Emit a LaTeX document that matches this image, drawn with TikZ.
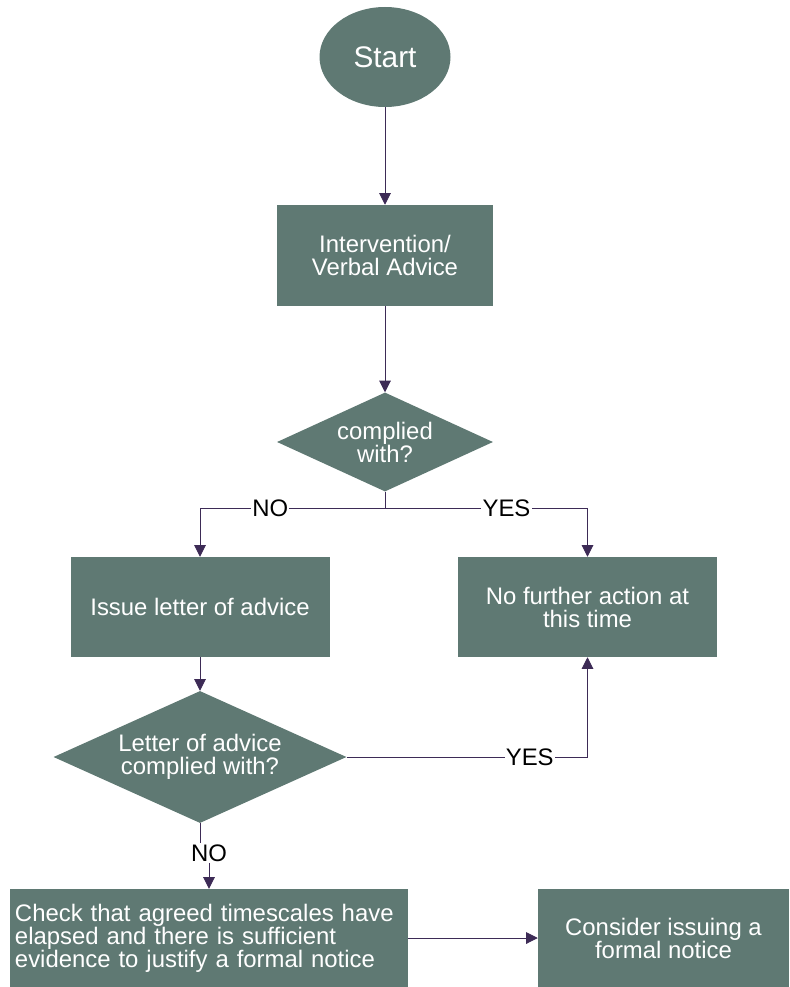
\documentclass[tikz,border=0pt]{standalone}
\usepackage{fontspec}
\setmainfont{Liberation Sans}
\usetikzlibrary{shapes.geometric,arrows.meta}
\definecolor{boxfill}{RGB}{95,121,115}
\definecolor{linecol}{RGB}{61,43,86}
\begin{document}
\begin{tikzpicture}[x=0.3mm,y=-0.3mm,
    every node/.style={font=\fontsize{20.4}{19.6}\selectfont},
    stepbox/.style={rectangle,fill=boxfill,text=white,inner sep=0pt,align=center},
    choice/.style={diamond,fill=boxfill,inner sep=0pt},
    choicetext/.style={text=white,align=center,inner sep=0pt},
    lbl/.style={fill=white,text=black,inner sep=1pt},
    arr/.style={draw=linecol,line width=0.8pt,-{Triangle[width=10pt,length=10pt]}},
    con/.style={draw=linecol,line width=0.8pt}]
            \useasboundingbox (0,0) rectangle (789,987);
            \node [ellipse,fill=boxfill,text=white,minimum width=39.3mm,minimum height=30mm,inner sep=0pt,font=\fontsize{25.4}{28}\selectfont] (start) at (385,57) {Start};
            \node [stepbox,minimum width=64.8mm,minimum height=30.3mm] (advice) at (385,255.5) {Intervention/\\Verbal Advice};
            \node [choice,minimum width=64.8mm,minimum height=29.7mm,label={[choicetext]center:{complied\\with?}}] (complied) at (385,442) {};
            \node [stepbox,minimum width=77.7mm,minimum height=30mm] (letter) at (200,607) {Issue letter of advice};
            \node [stepbox,minimum width=77.7mm,minimum height=30mm] (noaction) at (587.5,607) {No further action at\\this time};
            \node [choice,minimum width=87.9mm,minimum height=39.6mm,label={[choicetext]center:{Letter of advice\\complied with?}}] (lettercomplied) at (200,757) {};
            \node [stepbox,minimum width=119.4mm,minimum height=29.4mm,text width=116.4mm,align=left] (check) at (209,938) {Check that agreed timescales have\\elapsed and there is sufficient\\evidence to justify a formal notice};
            \node [stepbox,minimum width=75.3mm,minimum height=29.4mm] (notice) at (663.5,938) {Consider issuing a\\formal notice};
            \node [lbl] (nolbl) at (209,853) {NO};
            \coordinate (split) at (385,508);
            \draw [arr] (start) -- (advice);
            \draw [arr] (advice) -- (complied);
            \draw [con] (complied.south) -- (split);
            \draw [arr] (split) -| node [lbl,pos=0.31] {NO} (letter.north);
            \draw [arr] (split) -| node [lbl,pos=0.30] {YES} (noaction.north);
            \draw [arr] (letter) -- (lettercomplied);
            \draw [arr] (lettercomplied.east) -| node [lbl,pos=0.38] {YES} (noaction.south);
            \draw [con] (lettercomplied.south) -- (lettercomplied.south |- nolbl.north);
            \draw [arr] (nolbl.south) -- (check.north);
            \draw [arr] (check.east) -- (notice.west);
        \end{tikzpicture}
\end{document}
